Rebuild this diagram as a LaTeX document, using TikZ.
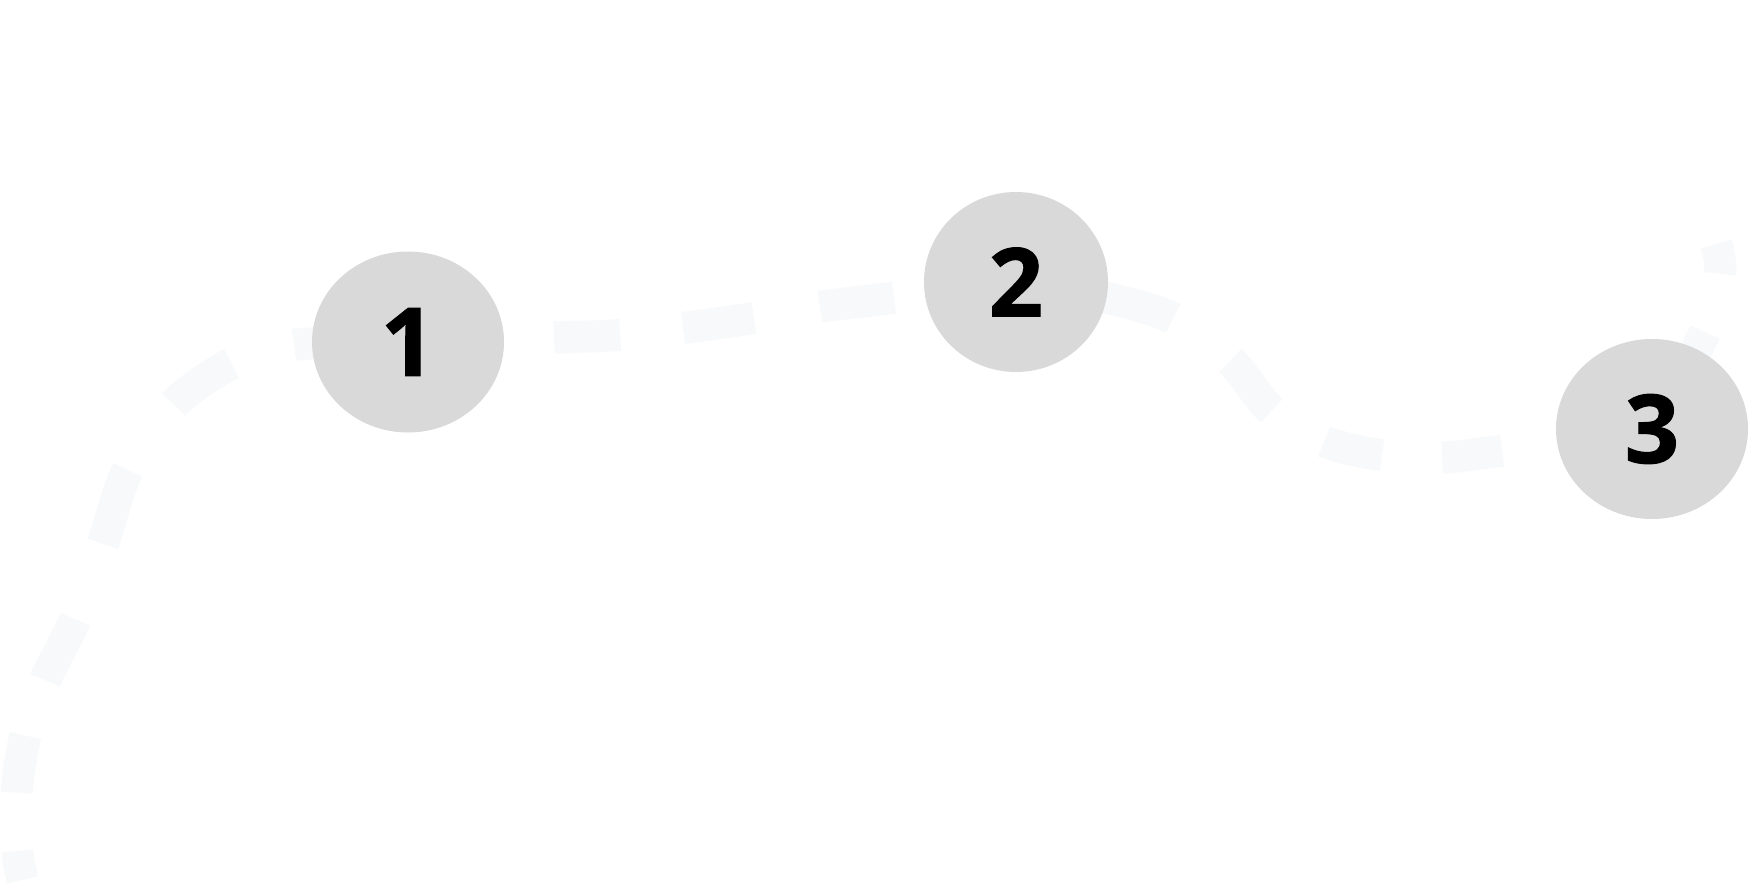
\documentclass[tikz,border=0pt]{standalone}
\usepackage{fontspec}
\newfontfamily\numfont{Open Sans}[FakeBold=1.2]
\usetikzlibrary{shapes.geometric,backgrounds}
\definecolor{trailgray}{HTML}{F8F9FA}
\definecolor{discgray}{HTML}{D9D9D9}
\begin{document}
\begin{tikzpicture}[x=1pt,y=-1pt,
  trail/.style={draw=trailgray,line width=32pt,line cap=butt},
  disc/.style={ellipse,fill=discgray,draw=none,inner sep=0pt,text=black,
    font=\numfont\bfseries\fontsize{95}{95}\selectfont}]
\useasboundingbox (0,0) rectangle (1760,885);
% stations
\node[disc,minimum width=192pt,minimum height=181pt] (n1) at (408,342) {1};
\node[disc,minimum width=184pt,minimum height=180pt] (n2) at (1016,282) {2};
\node[disc,minimum width=192pt,minimum height=180pt] (n3) at (1652,429) {3};
% trail points
\coordinate (a0) at (22.5,880);
\coordinate (a1) at (17.5,851);
\coordinate (a2) at (16.7,792.5);
\coordinate (a3) at (25.5,735.5);
\coordinate (a4) at (45.2,680);
\coordinate (a5) at (75.3,619.2);
\coordinate (a6) at (103,543.7);
\coordinate (a7) at (127.8,469.7);
\coordinate (a8) at (174,404);
\coordinate (a9) at (232,363.3);
\coordinate (a10) at (295,344.7);
\coordinate (b1) at (554,337.5);
\coordinate (b2) at (620,335);
\coordinate (b3) at (683,328);
\coordinate (b4) at (754,318);
\coordinate (b5) at (820,306.7);
\coordinate (b6) at (894,297.7);
\coordinate (c1) at (1107,298);
\coordinate (c2) at (1172.8,318.3);
\coordinate (c3) at (1230.5,360.8);
\coordinate (c4) at (1271.8,410.8);
\coordinate (c5) at (1324.5,441.7);
\coordinate (c6) at (1382.5,455.2);
\coordinate (c7) at (1442.8,457.5);
\coordinate (c8) at (1502.8,450.5);
\coordinate (d1) at (1705,332);
\coordinate (d2) at (1720,273.3);
\coordinate (d3) at (1716.3,244);
\begin{pgfonlayer}{background}
\fill[white] (0,0) rectangle (1760,885);
\draw[trail,dash pattern=on 29.4pt off 58.5pt on 57.7pt off 58.9pt on 67.9pt off 80.4pt on 78pt off 80.3pt on 70.9pt off 65.7pt on 300pt]
  plot[smooth] coordinates {(a0) (a1) (a2) (a3) (a4) (a5) (a6) (a7) (a8) (a9) (a10) (n1.center)};
\draw[trail,dash pattern=on 80pt off 66.1pt on 66pt off 63.4pt on 71.7pt off 67pt on 74.5pt off 65pt on 200pt]
  plot[smooth] coordinates {(n1.center) (b1) (b2) (b3) (b4) (b5) (b6) (n2.center)};
\draw[trail,dash pattern=on 161.5pt off 71.7pt on 64.8pt off 61.1pt on 59.5pt off 60.3pt on 60.4pt off 300pt]
  plot[smooth] coordinates {(n2.center) (c1) (c2) (c3) (c4) (c5) (c6) (c7) (c8) (n3.center)};
\draw[trail,dash pattern=on 110.5pt off 60.6pt on 60pt]
  plot[smooth] coordinates {(n3.center) (d1) (d2) (d3)};
\end{pgfonlayer}
\end{tikzpicture}
\end{document}
